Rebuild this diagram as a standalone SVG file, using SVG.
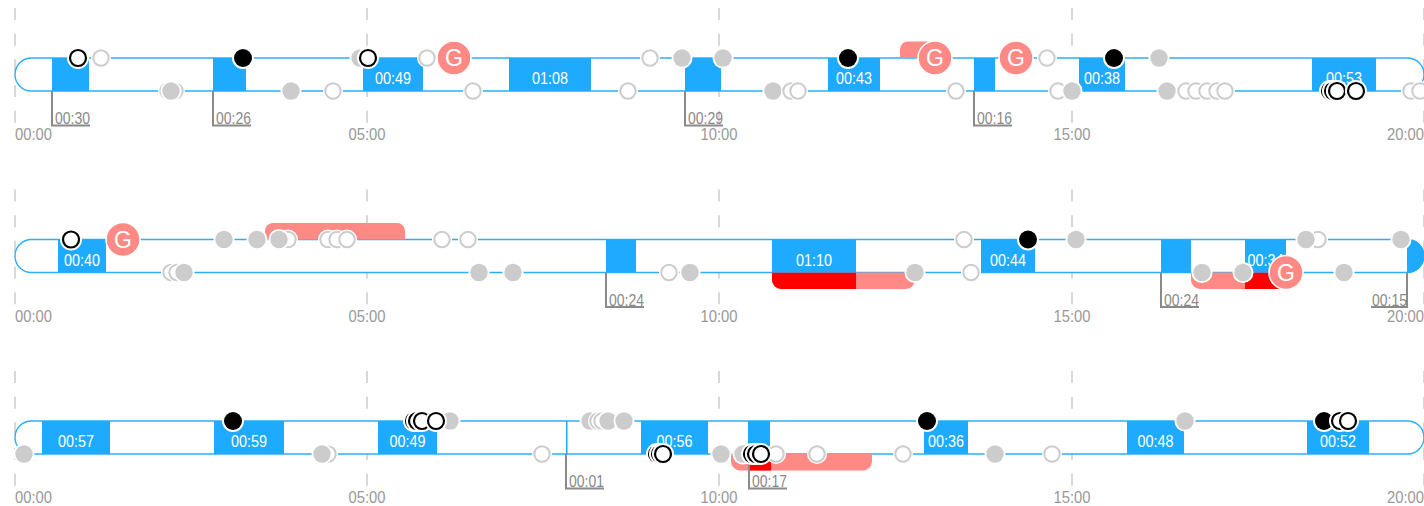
<svg xmlns="http://www.w3.org/2000/svg" xmlns:xlink="http://www.w3.org/1999/xlink" width="1424" height="506" viewBox="0 0 1424 506">
<style>
text{font-family:"Liberation Sans Narrow","Liberation Sans",sans-serif}
.tick{stroke:#ccc;stroke-width:1.5;stroke-dasharray:12 13.67}
.ax{fill:#999;font-size:17px}
.track{fill:#fff;stroke:#2aaefc;stroke-width:1.4}
.blk{fill:#1eaaff}
.bl{fill:#fff;font-size:17px;text-anchor:middle}
.br{fill:none;stroke:#8a8a8a;stroke-width:2}
.brt{fill:#8a8a8a;font-size:17px}
.sal{fill:#ff8a85}
.red{fill:#ff0000}
.gc{fill:#ff8a85;stroke:#fff;stroke-width:1.5}
.gt{fill:#fff;font-size:23px;text-anchor:middle}
</style>
<defs>
<g id="gf"><circle r="10.5" fill="#fff"/><circle r="8.7" fill="#ccc"/></g>
<g id="go"><circle r="10" fill="#fff"/><circle r="7.7" fill="#fff" stroke="#ccc" stroke-width="2"/></g>
<g id="kf"><circle r="11" fill="#fff"/><circle r="9" fill="#000"/></g>
<g id="ko"><circle r="11" fill="#fff"/><circle r="8" fill="#fff" stroke="#000" stroke-width="2.2"/></g>
</defs>

<g id="row1" transform="translate(0,58)">
 <g id="r1-grid">
  <path class="tick" d="M15,-50V65M367,-50V65M719,-50V65M1072,-50V65M1424,-50V65"/>
  <text class="ax" x="15" y="82" textLength="37" lengthAdjust="spacingAndGlyphs">00:00</text>
  <text class="ax" x="367" y="82" text-anchor="middle" textLength="37" lengthAdjust="spacingAndGlyphs">05:00</text>
  <text class="ax" x="719" y="82" text-anchor="middle" textLength="37" lengthAdjust="spacingAndGlyphs">10:00</text>
  <text class="ax" x="1072" y="82" text-anchor="middle" textLength="37" lengthAdjust="spacingAndGlyphs">15:00</text>
  <text class="ax" x="1424" y="82" text-anchor="end" textLength="37" lengthAdjust="spacingAndGlyphs">20:00</text>
 </g>
 <path id="r1-track" class="track" d="M31.5,0H1407.5A16.5,16.5 0 0 1 1407.5,33H31.5A16.5,16.5 0 0 1 31.5,0Z"/>
 <path id="r1-bar1" class="sal" d="M900,0V-8.5A8,8 0 0 1 908,-16.5H942V0Z"/>
 <g id="r1-blocks">
  <rect class="blk" x="52" y="0" width="37" height="33"/>
  <rect class="blk" x="213" y="0" width="33" height="33"/>
  <rect class="blk" x="363" y="0" width="60" height="33"/>
  <rect class="blk" x="509" y="0" width="82" height="33"/>
  <rect class="blk" x="685" y="0" width="36" height="33"/>
  <rect class="blk" x="828" y="0" width="52" height="33"/>
  <rect class="blk" x="974" y="0" width="21" height="33"/>
  <rect class="blk" x="1079" y="0" width="46" height="33"/>
  <rect class="blk" x="1312" y="0" width="64" height="33"/>
  <text class="bl" x="393" y="26" textLength="36" lengthAdjust="spacingAndGlyphs">00:49</text>
  <text class="bl" x="550" y="26" textLength="36" lengthAdjust="spacingAndGlyphs">01:08</text>
  <text class="bl" x="854" y="26" textLength="36" lengthAdjust="spacingAndGlyphs">00:43</text>
  <text class="bl" x="1102" y="26" textLength="36" lengthAdjust="spacingAndGlyphs">00:38</text>
  <text class="bl" x="1344" y="26" textLength="36" lengthAdjust="spacingAndGlyphs">00:53</text>
  <path class="br" d="M52,33V67.5H90M213,33V67.5H251M685,33V67.5H723M974,33V67.5H1012"/>
  <text class="brt" x="55" y="66" textLength="35" lengthAdjust="spacingAndGlyphs">00:30</text>
  <text class="brt" x="216" y="66" textLength="35" lengthAdjust="spacingAndGlyphs">00:26</text>
  <text class="brt" x="688" y="66" textLength="35" lengthAdjust="spacingAndGlyphs">00:29</text>
  <text class="brt" x="977" y="66" textLength="35" lengthAdjust="spacingAndGlyphs">00:16</text>
 </g>
 <g id="r1-events">
  <use href="#ko" x="78" y="0"/>
  <use href="#go" x="101" y="0"/>
  <use href="#kf" x="243" y="0"/>
  <use href="#gf" x="360" y="0"/>
  <use href="#ko" x="368" y="0"/>
  <use href="#go" x="427" y="0"/>
  <use href="#go" x="650" y="0"/>
  <use href="#gf" x="682" y="0"/>
  <use href="#gf" x="723" y="0"/>
  <use href="#kf" x="848" y="0"/>
  <use href="#go" x="1047" y="0"/>
  <use href="#kf" x="1114" y="0"/>
  <use href="#gf" x="1159" y="0"/>
  <use href="#go" x="168" y="33"/>
  <use href="#go" x="175" y="33"/>
  <use href="#gf" x="171" y="33"/>
  <use href="#gf" x="291" y="33"/>
  <use href="#go" x="333" y="33"/>
  <use href="#go" x="473" y="33"/>
  <use href="#go" x="628" y="33"/>
  <use href="#gf" x="773" y="33"/>
  <use href="#go" x="791" y="33"/>
  <use href="#go" x="798" y="33"/>
  <use href="#go" x="956" y="33"/>
  <use href="#go" x="1058" y="33"/>
  <use href="#gf" x="1072" y="33"/>
  <use href="#gf" x="1167" y="33"/>
  <use href="#go" x="1186" y="33"/>
  <use href="#go" x="1196" y="33"/>
  <use href="#go" x="1207" y="33"/>
  <use href="#go" x="1217" y="33"/>
  <use href="#go" x="1225" y="33"/>
  <use href="#ko" x="1330" y="33"/>
  <use href="#ko" x="1333" y="33"/>
  <use href="#ko" x="1337" y="33"/>
  <use href="#ko" x="1356" y="33"/>
  <use href="#go" x="1411" y="33"/>
  <use href="#go" x="1420" y="33"/>
 </g>
 <g id="r1-goals">
  <circle class="gc" cx="454" cy="0" r="17"/><text class="gt" x="454" y="8">G</text>
  <circle class="gc" cx="935" cy="0" r="17"/><text class="gt" x="935" y="8">G</text>
  <circle class="gc" cx="1016" cy="0" r="17"/><text class="gt" x="1016" y="8">G</text>
 </g>
</g>

<g id="row2" transform="translate(0,239.5)">
 <g id="r2-grid">
  <path class="tick" d="M15,-50V65M367,-50V65M719,-50V65M1072,-50V65M1424,-50V65"/>
  <text class="ax" x="15" y="82" textLength="37" lengthAdjust="spacingAndGlyphs">00:00</text>
  <text class="ax" x="367" y="82" text-anchor="middle" textLength="37" lengthAdjust="spacingAndGlyphs">05:00</text>
  <text class="ax" x="719" y="82" text-anchor="middle" textLength="37" lengthAdjust="spacingAndGlyphs">10:00</text>
  <text class="ax" x="1072" y="82" text-anchor="middle" textLength="37" lengthAdjust="spacingAndGlyphs">15:00</text>
  <text class="ax" x="1424" y="82" text-anchor="end" textLength="37" lengthAdjust="spacingAndGlyphs">20:00</text>
 </g>
 <path id="r2-track" class="track" d="M31.5,0H1407.5A16.5,16.5 0 0 1 1407.5,33H31.5A16.5,16.5 0 0 1 31.5,0Z"/>
 <g id="r2-bars">
  <path class="sal" d="M265,0V-8.5A8,8 0 0 1 273,-16.5H397A8,8 0 0 1 405,-8.5V0Z"/>
  <path class="sal" d="M772,33H915V40.5A9,9 0 0 1 906,49.5H781A9,9 0 0 1 772,40.5Z"/>
  <path class="red" d="M772,33H856V49.5H781A9,9 0 0 1 772,40.5Z"/>
  <path class="sal" d="M1191,33H1290V40.5A9,9 0 0 1 1281,49.5H1200A9,9 0 0 1 1191,40.5Z"/>
  <path class="red" d="M1245,33H1290V40.5A9,9 0 0 1 1281,49.5H1245Z"/>
 </g>
 <g id="r2-blocks">
  <rect class="blk" x="58" y="0" width="48" height="33"/>
  <rect class="blk" x="606" y="0" width="30" height="33"/>
  <rect class="blk" x="772" y="0" width="84" height="33"/>
  <rect class="blk" x="981" y="0" width="54" height="33"/>
  <rect class="blk" x="1161" y="0" width="30" height="33"/>
  <rect class="blk" x="1245" y="0" width="41" height="33"/>
  <path class="blk" d="M1407,0H1407.5A16.5,16.5 0 0 1 1407.5,33H1407Z"/>
  <text class="bl" x="82" y="26" textLength="36" lengthAdjust="spacingAndGlyphs">00:40</text>
  <text class="bl" x="814" y="26" textLength="36" lengthAdjust="spacingAndGlyphs">01:10</text>
  <text class="bl" x="1008" y="26" textLength="36" lengthAdjust="spacingAndGlyphs">00:44</text>
  <text class="bl" x="1265.5" y="26" textLength="36" lengthAdjust="spacingAndGlyphs">00:34</text>
  <path class="br" d="M606,33V67.5H644M1161,33V67.5H1199M1407,33V67.5H1371"/>
  <text class="brt" x="609" y="66" textLength="35" lengthAdjust="spacingAndGlyphs">00:24</text>
  <text class="brt" x="1164" y="66" textLength="35" lengthAdjust="spacingAndGlyphs">00:24</text>
  <text class="brt" x="1372" y="66" textLength="35" lengthAdjust="spacingAndGlyphs">00:15</text>
 </g>
 <g id="r2-events">
  <use href="#ko" x="71" y="0"/>
  <use href="#gf" x="224" y="0"/>
  <use href="#gf" x="257" y="0"/>
  <use href="#go" x="288" y="0"/>
  <use href="#gf" x="279" y="0"/>
  <use href="#go" x="328" y="0"/>
  <use href="#go" x="337" y="0"/>
  <use href="#go" x="347" y="0"/>
  <use href="#go" x="442" y="0"/>
  <use href="#go" x="468" y="0"/>
  <use href="#go" x="964" y="0"/>
  <use href="#kf" x="1028" y="0"/>
  <use href="#gf" x="1076" y="0"/>
  <use href="#go" x="1318" y="0"/>
  <use href="#gf" x="1306" y="0"/>
  <use href="#gf" x="1401" y="0"/>
  <use href="#go" x="171" y="33"/>
  <use href="#go" x="177" y="33"/>
  <use href="#gf" x="184" y="33"/>
  <use href="#gf" x="479" y="33"/>
  <use href="#gf" x="513" y="33"/>
  <use href="#go" x="669" y="33"/>
  <use href="#gf" x="690" y="33"/>
  <use href="#gf" x="915" y="33"/>
  <use href="#go" x="971" y="33"/>
  <use href="#gf" x="1202" y="33"/>
  <use href="#gf" x="1243" y="33"/>
  <use href="#gf" x="1344" y="33"/>
 </g>
 <g id="r2-goals">
  <circle class="gc" cx="123" cy="0" r="17"/><text class="gt" x="123" y="8">G</text>
  <circle class="gc" cx="1286" cy="33" r="17"/><text class="gt" x="1286" y="41">G</text>
 </g>
</g>

<g id="row3" transform="translate(0,421)">
 <g id="r3-grid">
  <path class="tick" d="M15,-50V65M367,-50V65M719,-50V65M1072,-50V65M1424,-50V65"/>
  <text class="ax" x="15" y="82" textLength="37" lengthAdjust="spacingAndGlyphs">00:00</text>
  <text class="ax" x="367" y="82" text-anchor="middle" textLength="37" lengthAdjust="spacingAndGlyphs">05:00</text>
  <text class="ax" x="719" y="82" text-anchor="middle" textLength="37" lengthAdjust="spacingAndGlyphs">10:00</text>
  <text class="ax" x="1072" y="82" text-anchor="middle" textLength="37" lengthAdjust="spacingAndGlyphs">15:00</text>
  <text class="ax" x="1424" y="82" text-anchor="end" textLength="37" lengthAdjust="spacingAndGlyphs">20:00</text>
 </g>
 <path id="r3-track" class="track" d="M31.5,0H1407.5A16.5,16.5 0 0 1 1407.5,33H31.5A16.5,16.5 0 0 1 31.5,0Z"/>
 <g id="r3-bars">
  <path class="sal" d="M731,33H872V40.5A9,9 0 0 1 863,49.5H740A9,9 0 0 1 731,40.5Z"/>
  <rect class="red" x="748" y="33" width="23" height="16.5"/>
 </g>
 <g id="r3-blocks">
  <rect class="blk" x="42" y="0" width="68" height="33"/>
  <rect class="blk" x="214" y="0" width="70" height="33"/>
  <rect class="blk" x="378" y="0" width="59" height="33"/>
  <rect class="blk" x="566" y="0" width="1.5" height="33"/>
  <rect class="blk" x="641" y="0" width="67" height="33"/>
  <rect class="blk" x="748" y="0" width="22" height="33"/>
  <rect class="blk" x="924" y="0" width="44" height="33"/>
  <rect class="blk" x="1127" y="0" width="57" height="33"/>
  <rect class="blk" x="1307" y="0" width="62" height="33"/>
  <text class="bl" x="76" y="26" textLength="36" lengthAdjust="spacingAndGlyphs">00:57</text>
  <text class="bl" x="249" y="26" textLength="36" lengthAdjust="spacingAndGlyphs">00:59</text>
  <text class="bl" x="407.5" y="26" textLength="36" lengthAdjust="spacingAndGlyphs">00:49</text>
  <text class="bl" x="674.5" y="26" textLength="36" lengthAdjust="spacingAndGlyphs">00:56</text>
  <text class="bl" x="946" y="26" textLength="36" lengthAdjust="spacingAndGlyphs">00:36</text>
  <text class="bl" x="1155.5" y="26" textLength="36" lengthAdjust="spacingAndGlyphs">00:48</text>
  <text class="bl" x="1338" y="26" textLength="36" lengthAdjust="spacingAndGlyphs">00:52</text>
  <path class="br" d="M566,33V67.5H604M749,33V67.5H787"/>
  <text class="brt" x="569" y="66" textLength="35" lengthAdjust="spacingAndGlyphs">00:01</text>
  <text class="brt" x="752" y="66" textLength="35" lengthAdjust="spacingAndGlyphs">00:17</text>
 </g>
 <g id="r3-events">
  <use href="#kf" x="233" y="0"/>
  <use href="#gf" x="450" y="0"/>
  <use href="#ko" x="414" y="0"/>
  <use href="#ko" x="417" y="0"/>
  <use href="#ko" x="422" y="0"/>
  <use href="#ko" x="436" y="0"/>
  <use href="#gf" x="590" y="0"/>
  <use href="#go" x="598" y="0"/>
  <use href="#go" x="602" y="0"/>
  <use href="#gf" x="608" y="0"/>
  <use href="#gf" x="624" y="0"/>
  <use href="#kf" x="927" y="0"/>
  <use href="#gf" x="1185" y="0"/>
  <use href="#kf" x="1324" y="0"/>
  <use href="#ko" x="1340" y="0"/>
  <use href="#ko" x="1348" y="0"/>
  <use href="#gf" x="24" y="33"/>
  <use href="#go" x="328" y="33"/>
  <use href="#gf" x="322" y="33"/>
  <use href="#go" x="542" y="33"/>
  <use href="#ko" x="657" y="33"/>
  <use href="#ko" x="660" y="33"/>
  <use href="#ko" x="663" y="33"/>
  <use href="#gf" x="721" y="33"/>
  <use href="#go" x="776" y="33"/>
  <use href="#gf" x="743" y="33"/>
  <use href="#ko" x="752" y="33"/>
  <use href="#ko" x="756" y="33"/>
  <use href="#ko" x="761" y="33"/>
  <use href="#go" x="817" y="33"/>
  <use href="#go" x="903" y="33"/>
  <use href="#gf" x="995" y="33"/>
  <use href="#go" x="1052" y="33"/>
 </g>
</g>
</svg>
